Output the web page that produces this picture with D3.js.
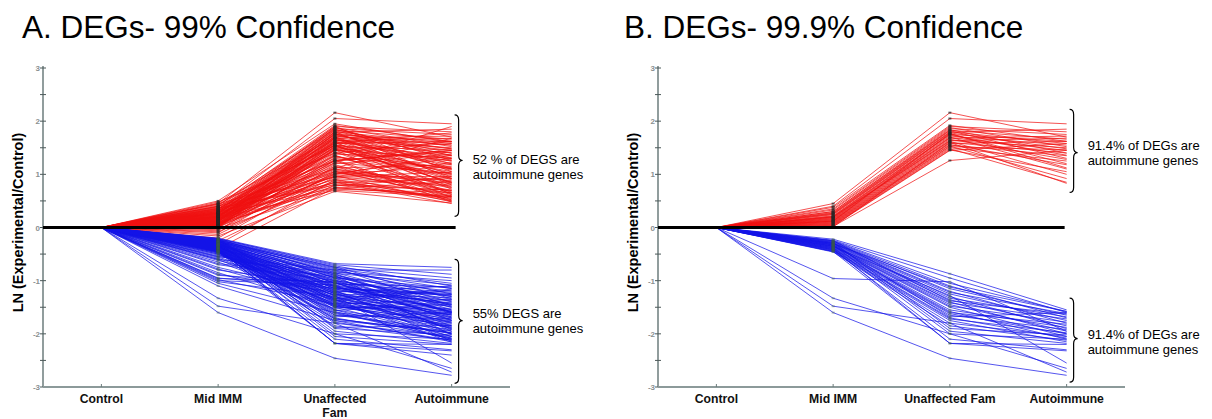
<!DOCTYPE html>
<html>
<head>
<meta charset="utf-8">
<script src="https://cdn.jsdelivr.net/npm/d3@7/dist/d3.min.js"></script>
<style>
  html, body { margin: 0; padding: 0; background: #fff; }
  svg { display: block; font-family: Arial, "Liberation Sans", Helvetica, sans-serif; }
</style>
</head>
<body>
<svg id="chart" width="1212" height="419"></svg>
<script>
// Conditions along the x axis; every profile starts at the control baseline (LN ratio 0).
const categories = ["Control", "Mid IMM", "Unaffected Fam", "Autoimmune"];
const controlValue = 0;
const yTicks = [-3, -2.5, -2, -1.5, -1, -0.5, 0, 0.5, 1, 1.5, 2, 2.5, 3];
const yTickLabels = [-3, -2, -1, 0, 1, 2, 3];

// Up-regulated genes passing 99.9% confidence: [Mid IMM, Unaffected Fam, Autoimmune]
const upStrict = [
  [0.45, 2.16, 1.70], [0.40, 2.05, 1.95], [0.38, 1.92, 1.62], [0.35, 1.90, 1.80],
  [0.33, 1.88, 1.52], [0.30, 1.86, 1.75], [0.30, 1.84, 1.40], [0.28, 1.83, 1.66],
  [0.27, 1.82, 1.30], [0.26, 1.80, 1.58], [0.25, 1.79, 1.85], [0.24, 1.78, 1.48],
  [0.22, 1.76, 1.20], [0.21, 1.75, 1.62], [0.20, 1.74, 1.36], [0.19, 1.72, 1.55],
  [0.18, 1.70, 1.10], [0.17, 1.69, 1.45], [0.16, 1.68, 1.72], [0.15, 1.66, 1.28],
  [0.14, 1.64, 1.50], [0.13, 1.62, 1.00], [0.12, 1.60, 1.40], [0.11, 1.58, 1.62],
  [0.10, 1.56, 1.18], [0.09, 1.55, 1.35], [0.08, 1.53, 0.92], [0.07, 1.52, 1.46],
  [0.06, 1.50, 1.25], [0.05, 1.48, 0.85], [0.04, 1.46, 1.05], [0.03, 1.45, 1.58],
  [0.02, 1.26, 1.45], [0.01, 1.60, 0.83], [0.12, 1.77, 1.12], [0.20, 1.63, 1.68]
];

// Additional up-regulated genes that pass only at 99% confidence
const upLoose = [
  [0.50, 1.95, 1.60], [0.48, 1.40, 1.10], [0.46, 1.70, 0.95], [0.44, 1.10, 0.70],
  [0.42, 1.85, 1.35], [0.40, 0.95, 0.80], [0.39, 1.55, 0.62], [0.37, 1.25, 1.45],
  [0.36, 0.80, 0.55], [0.34, 1.65, 1.20], [0.33, 1.05, 0.88], [0.32, 1.35, 0.75],
  [0.31, 1.90, 1.05], [0.29, 0.90, 0.65], [0.28, 1.45, 1.30], [0.27, 1.15, 0.50],
  [0.26, 1.75, 1.55], [0.25, 0.75, 0.60], [0.24, 1.30, 0.98], [0.23, 1.60, 0.72],
  [0.22, 1.00, 1.15], [0.21, 1.50, 0.85], [0.20, 0.85, 0.45], [0.19, 1.20, 1.38],
  [0.18, 1.80, 0.92], [0.17, 0.70, 0.58], [0.16, 1.40, 1.62], [0.15, 1.08, 0.68],
  [0.14, 1.62, 1.25], [0.13, 0.92, 0.78], [0.12, 1.28, 0.52], [0.11, 1.72, 1.48],
  [0.10, 0.78, 0.95], [0.09, 1.18, 0.62], [0.08, 1.52, 1.08], [0.07, 0.98, 0.48],
  [0.06, 1.38, 1.32], [0.05, 0.82, 0.70], [0.04, 1.22, 1.02], [0.03, 1.68, 0.80],
  [0.02, 0.88, 0.55], [0.01, 1.12, 1.18], [0.00, 1.48, 0.90], [-0.02, 0.72, 0.66],
  [-0.04, 1.02, 0.85], [-0.06, 1.32, 1.12], [-0.08, 0.86, 0.50], [-0.10, 1.15, 0.74],
  [-0.13, 0.95, 0.96], [-0.16, 0.68, 0.46], [-0.20, 1.05, 0.60], [-0.25, 0.80, 0.70],
  [-0.32, 0.90, 0.52], [-0.40, 0.75, 0.58], [0.35, 1.58, 1.78], [0.30, 1.22, 1.90],
  [0.27, 0.96, 1.22], [0.22, 1.42, 0.66], [0.18, 1.10, 0.82], [0.14, 1.34, 1.00],
  [0.10, 1.88, 1.26], [0.06, 1.06, 0.58], [0.03, 1.26, 1.42], [0.44, 1.54, 1.02],
  [0.40, 1.26, 0.48], [0.36, 1.02, 1.30], [0.32, 0.84, 0.92], [0.28, 1.68, 1.10],
  [0.24, 1.12, 1.68], [0.20, 1.46, 0.56], [0.16, 0.96, 1.04], [0.12, 1.56, 0.76],
  [0.08, 0.74, 0.86], [0.04, 1.36, 0.64], [0.00, 1.00, 1.36]
];

// Down-regulated genes passing 99.9% confidence
const downStrict = [
  [-0.22, -0.87, -1.55], [-0.24, -0.95, -1.60], [-0.25, -1.05, -1.58], [-0.26, -1.10, -1.70],
  [-0.27, -1.15, -1.65], [-0.28, -1.20, -1.80], [-0.29, -1.22, -1.62], [-0.30, -1.25, -1.75],
  [-0.30, -1.30, -1.90], [-0.31, -1.33, -1.68], [-0.32, -1.36, -1.85], [-0.33, -1.40, -2.00],
  [-0.34, -1.42, -1.72], [-0.35, -1.45, -1.95], [-0.35, -1.48, -1.78], [-0.36, -1.50, -2.05],
  [-0.37, -1.55, -1.88], [-0.38, -1.58, -2.10], [-0.39, -1.60, -1.82], [-0.40, -1.62, -2.00],
  [-0.41, -1.65, -1.92], [-0.42, -1.70, -2.08], [-0.43, -1.72, -1.98], [-0.44, -1.75, -2.15],
  [-0.45, -1.80, -2.05], [-0.46, -1.85, -2.12], [-0.28, -1.90, -2.02], [-0.33, -1.95, -2.18],
  [-0.38, -2.00, -2.10], [-0.42, -2.10, -2.30], [-0.45, -2.18, -2.32], [-0.40, -2.18, -2.20],
  [-0.96, -1.02, -1.95], [-1.33, -2.00, -2.65], [-1.48, -1.80, -2.72], [-1.60, -2.46, -2.78],
  [-0.30, -1.12, -1.58], [-0.36, -1.28, -2.55], [-0.25, -1.38, -1.63], [-0.32, -1.68, -1.60]
];

// Additional down-regulated genes that pass only at 99% confidence
const downLoose = [
  [-0.20, -0.68, -0.75], [-0.21, -0.72, -1.10], [-0.22, -0.75, -0.95], [-0.23, -0.80, -1.25],
  [-0.24, -0.78, -1.05], [-0.25, -0.85, -1.40], [-0.26, -0.82, -1.15], [-0.27, -0.90, -1.30],
  [-0.28, -0.88, -1.60], [-0.29, -0.95, -1.20], [-0.30, -0.92, -1.45], [-0.31, -1.00, -1.35],
  [-0.32, -0.98, -1.75], [-0.33, -1.05, -1.22], [-0.34, -1.02, -1.50], [-0.35, -1.10, -1.38],
  [-0.36, -1.08, -1.85], [-0.37, -1.15, -1.28], [-0.38, -1.12, -1.55], [-0.39, -1.18, -1.42],
  [-0.40, -1.22, -2.00], [-0.41, -1.25, -1.32], [-0.42, -1.28, -1.65], [-0.43, -1.32, -1.48],
  [-0.44, -1.35, -1.90], [-0.45, -1.38, -1.18], [-0.46, -1.40, -1.58], [-0.47, -1.44, -1.36],
  [-0.48, -1.47, -1.80], [-0.50, -1.50, -1.52], [-0.52, -1.06, -1.12], [-0.54, -0.96, -1.62],
  [-0.56, -1.20, -1.26], [-0.58, -1.34, -1.70], [-0.60, -0.86, -1.08], [-0.62, -1.16, -1.44],
  [-0.65, -1.42, -2.05], [-0.70, -1.00, -1.30], [-0.75, -1.26, -1.56], [-0.80, -1.10, -1.92],
  [-0.85, -1.52, -1.40], [-0.90, -1.04, -1.68], [-0.95, -1.14, -1.24], [-1.00, -1.08, -1.46],
  [-1.02, -1.30, -1.78], [-1.05, -1.60, -2.10], [-1.10, -1.75, -1.95], [-0.22, -1.55, -2.08],
  [-0.25, -1.65, -1.72], [-0.28, -1.78, -2.12], [-0.31, -1.88, -1.84], [-0.35, -2.05, -2.20],
  [-0.40, -2.18, -2.40], [-0.45, -1.72, -1.98], [-0.24, -0.74, -1.34], [-0.27, -0.84, -1.00],
  [-0.30, -0.94, -1.14], [-0.33, -1.04, -1.60], [-0.36, -1.14, -1.26], [-0.39, -1.24, -1.88],
  [-0.42, -1.34, -1.16], [-0.45, -1.46, -1.64], [-0.48, -1.56, -1.44], [-0.21, -0.70, -0.88],
  [-0.26, -0.76, -1.48], [-0.32, -0.90, -2.02], [-0.38, -1.00, -1.74], [-0.44, -1.18, -2.14],
  [-0.50, -1.28, -1.36], [-0.55, -0.80, -0.80], [-0.60, -1.48, -1.86], [-0.68, -0.92, -1.50],
  [-0.78, -1.36, -2.16], [-0.88, -1.22, -1.10], [-0.98, -1.44, -1.76]
];

const panelTitles = ["A. DEGs- 99% Confidence", "B. DEGs- 99.9% Confidence"];
const yAxisTitle = "LN (Experimental/Control)";

// Bracket annotations per panel: value span of the bracket, its tip, and the label lines
const notesA = [
  { top: 2.12, bottom: 0.21, tip: 1.26, label: 1.20, lines: ["52 % of DEGS are", "autoimmune genes"] },
  { top: -0.60, bottom: -2.93, tip: -1.75, label: -1.71, lines: ["55% DEGS are", "autoimmune genes"] }
];
const notesB = [
  { top: 2.22, bottom: 0.66, tip: 1.41, label: 1.45, lines: ["91.4% of DEGs are", "autoimmune genes"] },
  { top: -1.33, bottom: -2.91, tip: -2.09, label: -2.09, lines: ["91.4% of DEGs are", "autoimmune genes"] }
];

const panels = [
  { title: panelTitles[0], left: 43, right: 510, titleX: 22, up: upStrict.concat(upLoose),
    down: downStrict.concat(downLoose), notes: notesA, wrap: true, zeroExtra: 4 },
  { title: panelTitles[1], left: 658, right: 1125, titleX: 624, up: upStrict,
    down: downStrict, notes: notesB, wrap: false, zeroExtra: -2 }
];

const svg = d3.select("#chart");
const y = d3.scaleLinear().domain([-3, 3]).range([387, 68]);

function bracePath(x, t, b, m) {
  const w = 8, r = 5, h = x + w / 2;
  return `M${x},${t} Q${h},${t} ${h},${t + r} L${h},${m - r} Q${h},${m} ${x + w},${m} ` +
         `Q${h},${m} ${h},${m + r} L${h},${b - r} Q${h},${b} ${x},${b}`;
}

panels.forEach(p => {
  const g = svg.append("g");
  const x = d3.scalePoint().domain(categories).range([p.left, p.right]).padding(0.5);
  const line = d3.line().x((d, i) => x(categories[i])).y(d => y(d));
  const profile = d => [controlValue].concat(d);

  // title
  g.append("text").attr("x", p.titleX).attr("y", 38)
    .attr("font-size", 31.5).attr("fill", "#000").text(p.title);

  // y axis: line, half-unit ticks and integer labels
  g.append("line").attr("x1", p.left).attr("x2", p.left)
    .attr("y1", y(3) - 2).attr("y2", y(-3))
    .attr("stroke", "#6c7c7c").attr("stroke-width", 1.5);
  g.selectAll(".yt").data(yTicks).enter().append("line")
    .attr("x1", p.left - 3).attr("x2", p.left + 3)
    .attr("y1", d => y(d)).attr("y2", d => y(d))
    .attr("stroke", "#4d5a5a").attr("stroke-width", 1);
  g.selectAll(".yl").data(yTickLabels).enter().append("text")
    .attr("x", p.left - 3).attr("y", d => y(d) + 3)
    .attr("text-anchor", "end").attr("font-size", 8).attr("font-weight", "bold")
    .attr("fill", "#8a9090").text(d => d);
  g.append("text")
    .attr("transform", `translate(${p.left - 20},${y(0) - 5}) rotate(-90)`)
    .attr("text-anchor", "middle").attr("font-size", 14.5).attr("font-weight", "bold")
    .attr("fill", "#000").text(yAxisTitle);

  // x axis
  g.append("line").attr("x1", p.left).attr("x2", p.right)
    .attr("y1", y(-3)).attr("y2", y(-3))
    .attr("stroke", "#8c9a9a").attr("stroke-width", 2);
  g.selectAll(".xt").data(categories).enter().append("line")
    .attr("x1", d => x(d)).attr("x2", d => x(d))
    .attr("y1", y(-3)).attr("y2", y(-3) - 3)
    .attr("stroke", "#6c7c7c").attr("stroke-width", 1);
  g.selectAll(".xl").data(categories).enter().each(function (d) {
    const parts = (p.wrap && d.length > 10)
      ? [d.slice(0, d.lastIndexOf(" ")), d.slice(d.lastIndexOf(" ") + 1)] : [d];
    parts.forEach((t, i) => {
      g.append("text").attr("x", x(d)).attr("y", y(-3) + 16 + i * 13.5)
        .attr("text-anchor", "middle").attr("font-size", 12.2).attr("font-weight", "bold")
        .attr("fill", "#111").text(t);
    });
  });

  // gene profiles
  g.append("g").selectAll("path").data(p.up).enter().append("path")
    .attr("d", d => line(profile(d)))
    .attr("fill", "none").attr("stroke", "#f01010").attr("stroke-width", 1)
    .attr("stroke-opacity", 0.72);
  g.append("g").selectAll("path").data(p.down).enter().append("path")
    .attr("d", d => line(profile(d)))
    .attr("fill", "none").attr("stroke", "#1414e8").attr("stroke-width", 1)
    .attr("stroke-opacity", 0.72);

  // node markers at the two intermediate conditions
  [[p.up, "#262626", 0.7], [p.down, "#3a5a4a", 0.4]].forEach(([set, col, op]) => {
    [1, 2].forEach(k => {
      g.append("g").selectAll("rect").data(set).enter().append("rect")
        .attr("x", x(categories[k]) - 1.5).attr("y", d => y(d[k - 1]) - 1)
        .attr("width", 3).attr("height", 2)
        .attr("fill", col).attr("fill-opacity", op);
    });
  });

  // zero reference
  g.append("line").attr("x1", p.left).attr("x2", x(categories[3]) + p.zeroExtra)
    .attr("y1", y(0)).attr("y2", y(0))
    .attr("stroke", "#000").attr("stroke-width", 3);

  // brackets and percentages
  const bx = x(categories[3]) + 3;
  p.notes.forEach(n => {
    g.append("path").attr("d", bracePath(bx, y(n.top), y(n.bottom), y(n.tip)))
      .attr("fill", "none").attr("stroke", "#000").attr("stroke-width", 1.2);
    g.append("text").attr("x", bx + 18).attr("y", y(n.label))
      .attr("font-size", 13).attr("fill", "#000")
      .selectAll("tspan").data(n.lines).enter().append("tspan")
      .attr("x", bx + 18).attr("dy", (t, i) => i === 0 ? 0 : 15).text(t => t);
  });
});
</script>
</body>
</html>
